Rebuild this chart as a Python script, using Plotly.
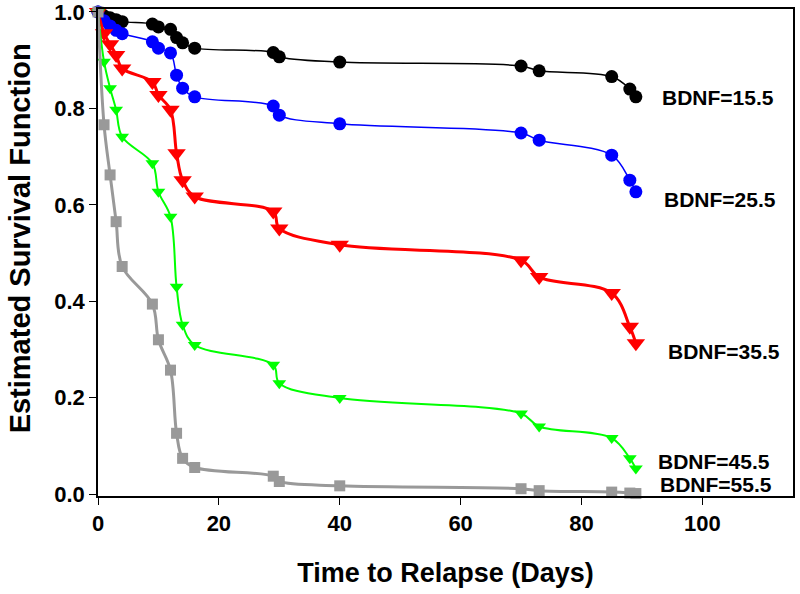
import plotly.graph_objects as go

# event times (days) shared by all curves
days = [0, 1, 2, 3, 4, 9, 10, 12, 13, 14, 16, 29, 30, 40, 70, 73, 85, 88, 89]

bdnf_15 = [1.0, 0.992, 0.988, 0.984, 0.980, 0.975, 0.969, 0.964, 0.947, 0.936,
           0.925, 0.916, 0.907, 0.896, 0.888, 0.878, 0.866, 0.840, 0.824]
bdnf_25 = [1.0, 0.982, 0.971, 0.962, 0.955, 0.938, 0.925, 0.915, 0.869, 0.842,
           0.824, 0.805, 0.786, 0.768, 0.749, 0.734, 0.703, 0.651, 0.627]
bdnf_35 = [1.0, 0.956, 0.933, 0.911, 0.883, 0.855, 0.828, 0.797, 0.707, 0.651,
           0.617, 0.586, 0.551, 0.517, 0.485, 0.450, 0.417, 0.347, 0.313]
bdnf_45 = [1.0, 0.897, 0.842, 0.797, 0.741, 0.686, 0.627, 0.575, 0.430, 0.351,
           0.309, 0.268, 0.230, 0.199, 0.167, 0.140, 0.116, 0.074, 0.053]
bdnf_55 = [1.0, 0.766, 0.662, 0.565, 0.472, 0.394, 0.320, 0.257, 0.126, 0.074,
           0.055, 0.037, 0.026, 0.017, 0.011, 0.007, 0.004, 0.002, 0.001]

labels = ["BDNF=15.5", "BDNF=25.5", "BDNF=35.5", "BDNF=45.5", "BDNF=55.5"]

series = [
    (bdnf_15, "#000000", "circle", 13, 1.5),
    (bdnf_25, "#0000FF", "circle", 13, 1.5),
    (bdnf_35, "#FF0000", "triangle-down", 16, 3),
    (bdnf_45, "#00FF00", "triangle-down", 12, 2),
    (bdnf_55, "#999999", "square", 11, 3),
]

fig = go.Figure()
for (vals, col, sym, size, lw), name in zip(series, labels):
    fig.add_trace(go.Scatter(
        x=days, y=vals, mode="lines+markers", name=name,
        line=dict(color=col, width=lw, shape="spline", smoothing=1),
        marker=dict(color=col, symbol=sym, size=size, line=dict(width=0)),
        cliponaxis=False,
    ))

# label positions (data coords) next to curve ends
label_pos = [(102.6, 0.823), (102.9, 0.611), (103.6, 0.295), (102.0, 0.068), (102.2, 0.019)]
for name, (lx, ly) in zip(labels, label_pos):
    fig.add_annotation(x=lx, y=ly, text=name, showarrow=False,
                       font=dict(family="Liberation Sans", size=21, color="black", weight="bold"))

# y-axis title (sits a little above the axis middle in the original)
fig.add_annotation(x=-0.113, y=0.53, xref="paper", yref="paper", textangle=-90,
                   text="Estimated Survival Function", showarrow=False,
                   xanchor="center", yanchor="middle",
                   font=dict(family="Liberation Sans", size=29, color="black", weight="bold"))

fig.update_layout(
    width=800, height=594,
    margin=dict(l=98, r=7, t=9, b=98),
    plot_bgcolor="white", paper_bgcolor="white",
    showlegend=False,
    font=dict(family="Liberation Sans", color="black"),
)
fig.update_xaxes(
    range=[0, 115], tickvals=[0, 20, 40, 60, 80, 100],
    showline=True, linecolor="black", linewidth=1.5, mirror=True,
    ticks="outside", ticklen=7, tickwidth=1.2, tickcolor="black",
    showgrid=False, zeroline=False, automargin=False, ticklabeloverflow="allow",
    tickfont=dict(size=22, weight="bold"),
    title=dict(text="Time to Relapse (Days)", font=dict(size=27, weight="bold"), standoff=28),
)
fig.update_yaxes(
    range=[-0.0041, 1.0062], tickvals=[0, 0.2, 0.4, 0.6, 0.8, 1.0], tickformat=".1f",
    showline=True, linecolor="black", linewidth=1.5, mirror=True,
    ticks="outside", ticklen=7, tickwidth=1.2, tickcolor="black",
    showgrid=False, zeroline=False, automargin=False, ticklabeloverflow="allow",
    tickfont=dict(size=22, weight="bold"),
)

# page body has a default 8px margin; drop it so the figure fills the window
fig.write_html("out.html", config={"displayModeBar": False},
               post_script="document.body.style.margin='0px';")
